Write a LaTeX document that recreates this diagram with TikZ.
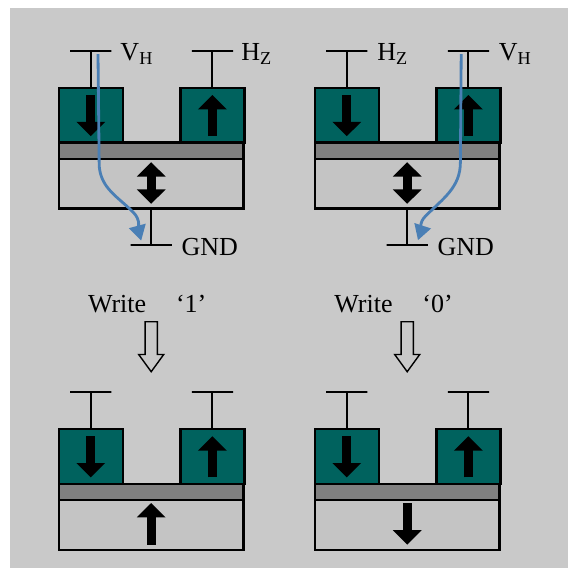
\documentclass[tikz,border=0pt]{standalone}
\usepackage{fontspec}
\setmainfont{Liberation Serif}
\usepackage{xcolor}
\usepackage{tikz}
\usetikzlibrary{positioning,arrows.meta,shapes.arrows}
\definecolor{panel}{HTML}{C9C9C9}
\definecolor{teal}{HTML}{00625E}
\definecolor{midgray}{HTML}{808080}
\definecolor{lightgray}{HTML}{C4C4C4}
\definecolor{flowblue}{HTML}{4A7FB5}

\begin{document}
\begin{tikzpicture}[
  pad/.style={draw,line width=1.6pt,fill=teal,minimum width=1.6cm,minimum height=1.37cm,inner sep=0pt,outer sep=0pt},
  barrier/.style={draw,line width=1.6pt,fill=midgray,minimum width=4.62cm,minimum height=0.41cm,inner sep=0pt,outer sep=0pt},
  free/.style={draw,line width=1.6pt,fill=lightgray,minimum width=4.62cm,minimum height=1.24cm,inner sep=0pt,outer sep=0pt},
  term/.style={draw,line width=1.5pt,minimum width=1.03cm,minimum height=0pt,inner sep=0pt,outer sep=0pt},
  wire/.style={line width=1.5pt},
  lab/.style={inner sep=0pt,text depth=0pt,yshift=-0.04cm,font=\fontsize{18.5}{20}\selectfont},
  writebox/.style={single arrow,draw,line width=1pt,fill=panel,minimum height=1.25cm,text width=0.27cm,single arrow head extend=0.16cm,single arrow tip angle=72,inner sep=0pt,shape border rotate=270},
  heavy/.style={line width=0.22cm,-{Triangle[width=0.7cm,length=0.36cm]}},
  heavyboth/.style={line width=0.22cm,{Triangle[width=0.7cm,length=0.36cm]}-{Triangle[width=0.7cm,length=0.36cm]}},
  flow/.style={line width=2pt,color=flowblue,-{Triangle[width=0.42cm,length=0.38cm]}}
]
  \useasboundingbox (0,0) rectangle (14.2,-14.2);
  \fill[panel] (0.25,-0.2) rectangle (14.2,-14.2);

  % top left cell
  \node[pad] (a1) at (2.27,-2.88) {};
  \node[pad,right=1.44cm of a1] (a2) {};
  \node[barrier,below right=0cm and 0cm of a1.south west] (am) {};
  \node[free,below=0cm of am] (ab) {};
  \node[term,above=0.93cm of a1] (at1) {};
  \node[term,above=0.93cm of a2] (at2) {};
  \node[term,below=0.91cm of ab] (ag) {};
  \node[lab,right=0.22cm of at1] (avh) {V\textsubscript{H}};
  \node[lab,right=0.2cm of at2] (ahz) {H\textsubscript{Z}};
  \node[lab,right=0.24cm of ag] (agnd) {GND};
  \draw[wire] (a1)--(at1); \draw[wire] (a2)--(at2); \draw[wire] (ab)--(ag);

  % top right cell
  \node[pad,right=4.8cm of a1] (b1) {};
  \node[pad,right=1.44cm of b1] (b2) {};
  \node[barrier,below right=0cm and 0cm of b1.south west] (bm) {};
  \node[free,below=0cm of bm] (bb) {};
  \node[term,above=0.93cm of b1] (bt1) {};
  \node[term,above=0.93cm of b2] (bt2) {};
  \node[term,below=0.91cm of bb] (bg) {};
  \node[lab,right=0.24cm of bt1] (bhz) {H\textsubscript{Z}};
  \node[lab,right=0.24cm of bt2] (bvh) {V\textsubscript{H}};
  \node[lab,right=0.24cm of bg] (bgnd) {GND};
  \draw[wire] (b1)--(bt1); \draw[wire] (b2)--(bt2); \draw[wire] (bb)--(bg);

  % write step
  \node[writebox,below=1.9cm of ag] (wa) {};
  \node[writebox,below=1.9cm of bg] (wb) {};
  \node[lab,above=0.25cm of wa,xshift=-0.1cm] (wal) {Write\hspace{1.15em}‘1’};
  \node[lab,above=0.25cm of wb,xshift=-0.34cm] (wbl) {Write\hspace{1.15em}‘0’};

  % bottom left cell
  \node[pad,below=7.16cm of a1] (c1) {};
  \node[pad,right=1.44cm of c1] (c2) {};
  \node[barrier,below right=0cm and 0cm of c1.south west] (cm) {};
  \node[free,below=0cm of cm] (cb) {};
  \node[term,above=0.93cm of c1] (ct1) {};
  \node[term,above=0.93cm of c2] (ct2) {};
  \draw[wire] (c1)--(ct1); \draw[wire] (c2)--(ct2);

  % bottom right cell
  \node[pad,right=4.8cm of c1] (d1) {};
  \node[pad,right=1.44cm of d1] (d2) {};
  \node[barrier,below right=0cm and 0cm of d1.south west] (dm) {};
  \node[free,below=0cm of dm] (db) {};
  \node[term,above=0.93cm of d1] (dt1) {};
  \node[term,above=0.93cm of d2] (dt2) {};
  \draw[wire] (d1)--(dt1); \draw[wire] (d2)--(dt2);

  % magnetisation
  \draw[heavy] ([yshift=-0.18cm]a1.north)--([yshift=0.16cm]a1.south);
  \draw[heavy] ([yshift=0.16cm]a2.south)--([yshift=-0.18cm]a2.north);
  \draw[heavy] ([yshift=-0.18cm]b1.north)--([yshift=0.16cm]b1.south);
  \draw[heavy] ([yshift=0.16cm]b2.south)--([yshift=-0.18cm]b2.north);
  \draw[heavy] ([yshift=-0.18cm]c1.north)--([yshift=0.16cm]c1.south);
  \draw[heavy] ([yshift=0.16cm]c2.south)--([yshift=-0.18cm]c2.north);
  \draw[heavy] ([yshift=-0.18cm]d1.north)--([yshift=0.16cm]d1.south);
  \draw[heavy] ([yshift=0.16cm]d2.south)--([yshift=-0.18cm]d2.north);
  \draw[heavyboth] ([yshift=-0.08cm]ab.north)--([yshift=0.12cm]ab.south);
  \draw[heavyboth] ([yshift=-0.08cm]bb.north)--([yshift=0.12cm]bb.south);
  \draw[heavy] ([yshift=0.13cm]cb.south)--([yshift=-0.07cm]cb.north);
  \draw[heavy] ([yshift=-0.07cm]db.north)--([yshift=0.13cm]db.south);

  % current paths
  \draw[flow] ([shift={(0.18,-0.09)}]at1.center) -- ++(0.03,-2.8) to[out=-85,in=135] ++(0.85,-1.15) to[out=-45,in=105] ([shift={(-0.25,0.11)}]ag.center);
  \draw[flow] ([shift={(-0.18,-0.09)}]bt2.center) -- ++(-0.02,-2.7) to[out=-90,in=45] ++(-0.875,-1.35) to[out=-135,in=72] ([shift={(0.27,0.12)}]bg.center);
\end{tikzpicture}
\end{document}
